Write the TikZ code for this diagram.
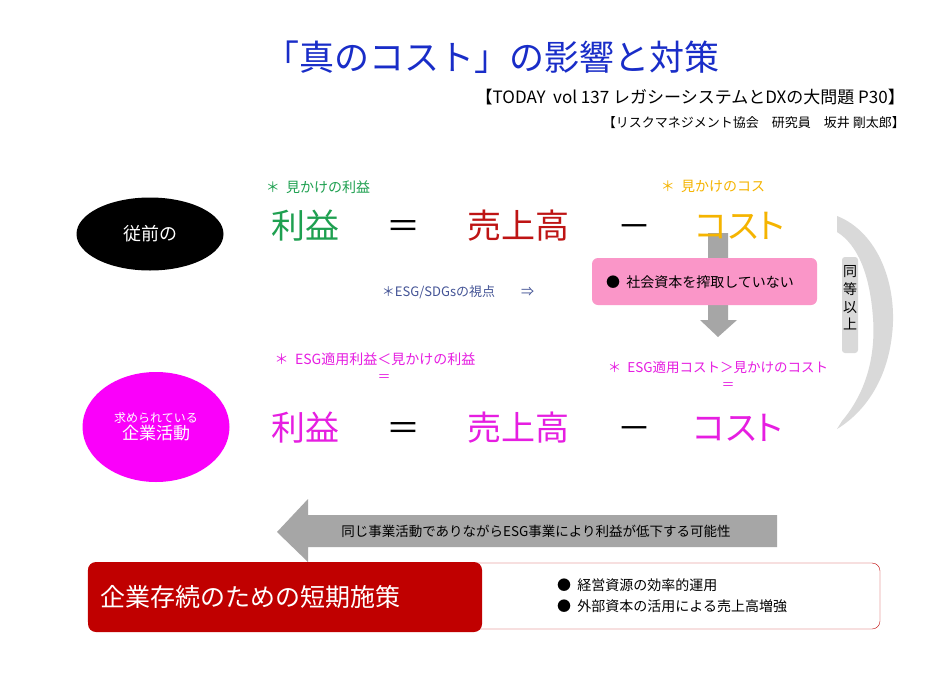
\documentclass[tikz,border=0pt]{standalone}
\usepackage{fontspec}
\setmainfont{Noto Sans CJK JP}
\newfontfamily\propfont[RawFeature=+palt]{Noto Sans CJK JP}
\usetikzlibrary{positioning,shapes.geometric}
\definecolor{titleblue}{RGB}{25,45,200}
\definecolor{profitgreen}{RGB}{30,160,80}
\definecolor{salesred}{RGB}{190,20,20}
\definecolor{costgold}{RGB}{245,180,0}
\definecolor{esgmagenta}{RGB}{230,30,225}
\definecolor{ovalmagenta}{RGB}{250,0,250}
\definecolor{viewblue}{RGB}{68,84,150}
\definecolor{boxpink}{RGB}{250,150,200}
\definecolor{arrowgray}{RGB}{166,166,166}
\definecolor{lightgray}{RGB}{217,217,217}
\definecolor{planred}{RGB}{192,0,0}
\tikzset{
    %Define style for the big formula terms
    term/.style={inner sep=0pt, text height=30pt, text depth=4pt, font=\fontsize{34}{40}\selectfont},
    %Define style for the small notes
    note/.style={inner sep=0pt, font=\fontsize{14}{17}\selectfont},
    %Define style for the two ovals
    oval/.style={ellipse, inner sep=0pt, minimum width=147pt, text=white},
}

\begin{document}
\begin{tikzpicture}[x=1pt,y=-1pt,node distance=47pt]
    \useasboundingbox[fill=white] (0,0) rectangle (950,672);

    % heading
    \node[inner sep=0pt, text=titleblue, font=\fontsize{35}{40}\selectfont] (title) at (492,57) {「真のコスト」の影響と対策};
    \node[inner sep=0pt, anchor=east, font=\fontsize{17}{20}\selectfont] (source) at (905,97) {【TODAY\ \ vol 137 レガシーシステムとDXの大問題 P30】};
    \node[inner sep=0pt, anchor=east, font=\fontsize{13}{16}\selectfont] (author) at (905,123) {【リスクマネジメント協会　研究員　坂井 剛太郎】};

    % ovals
    \node[oval, fill=black, minimum height=73pt, font=\fontsize{18}{20}\selectfont] (before) at (150,234) {従前の};
    \node[oval, fill=ovalmagenta, minimum height=110pt, align=center] (wanted) at (156,427)
        {{\fontsize{12}{14}\selectfont 求められている}\\[1pt]{\fontsize{17}{20}\selectfont 企業活動}};

    % down arrow and pink box
    \fill[arrowgray] (708,233) -- (728,233) -- (728,320) -- (737,320) -- (718,337) -- (700,320) -- (708,320) -- cycle;
    \fill[boxpink, rounded corners=6pt] (592,258) rectangle (817,305);
    \node[note] (exploit) at (700,282) {●\ \ 社会資本を搾取していない};

    % bracket on the right
    \fill[lightgray] (837,216) .. controls (878,232) and (898,285) .. (892,335)
        .. controls (887,380) and (865,412) .. (837,429)
        -- (842,421) .. controls (864,395) and (876,360) .. (873,318)
        .. controls (870,275) and (858,245) .. (837,232) -- cycle;
    \fill[lightgray, rounded corners=3pt] (842,257) rectangle (858,353);
    \node[inner sep=0pt, align=center, font=\fontsize{14}{17.7}\selectfont] (equal) at (850,298) {同\\等\\以\\上};

    % conventional formula
    \node[term, text=profitgreen] (term1) at (305,225) {利益};
    \node[term, right=of term1] (term2) {＝};
    \node[term, text=salesred, right=of term2] (term3) {売上高};
    \node[term, right=of term3] (term4) {－};
    \node[term, text=costgold, right=44pt of term4] (term5) {\propfont コスト};

    \node[note, text=profitgreen] (seemprofit) at (318,187) {＊\ \ 見かけの利益};
    \node[note, text=costgold] (seemcost) at (713,186) {＊\ \ 見かけのコス};
    \node[note, text=viewblue, font=\fontsize{13}{16}\selectfont] (view) at (458,292) {＊ESG/SDGsの視点\qquad ⇒};

    % required formula
    \node[term, text=esgmagenta, below=168pt of term1] (term6) {利益};
    \node[term, right=of term6] (term7) {＝};
    \node[term, text=esgmagenta, right=of term7] (term8) {売上高};
    \node[term, right=of term8] (term9) {－};
    \node[term, text=esgmagenta, right=42pt of term9] (term10) {\propfont コスト};

    \node[note, text=esgmagenta] (esgprofit) at (375,359) {＊\ \ ESG適用利益＜見かけの利益};
    \node[note, text=esgmagenta, font=\fontsize{13}{16}\selectfont] (eq1) at (384,378) {＝};
    \node[note, text=esgmagenta, font=\fontsize{13.5}{16}\selectfont] (esgcost) at (718,367) {＊\ \ ESG適用コスト＞見かけのコスト};
    \node[note, text=esgmagenta, font=\fontsize{13}{16}\selectfont] (eq2) at (728,386) {＝};

    % left arrow
    \fill[arrowgray] (777,515) -- (308,515) -- (308,499) -- (277,532) -- (308,562) -- (308,547) -- (777,547) -- cycle;
    \node[note, font=\fontsize{13.5}{16}\selectfont] (decline) at (536,531) {同じ事業活動でありながらESG事業により利益が低下する可能性};

    % short term measures
    \draw[planred, rounded corners=8pt] (88,563) rectangle (880,629);
    \fill[planred, rounded corners=8pt] (88,562) rectangle (482,632);
    \node[inner sep=0pt, anchor=west, text=white, font=\fontsize{25}{30}\selectfont] (plan) at (100,597) {企業存続のための短期施策};
    \node[note, anchor=west] (measure1) at (557,585) {●\ \ 経営資源の効率的運用};
    \node[note, anchor=west] (measure2) at (557,606) {●\ \ 外部資本の活用による売上高増強};
\end{tikzpicture}
\end{document}
